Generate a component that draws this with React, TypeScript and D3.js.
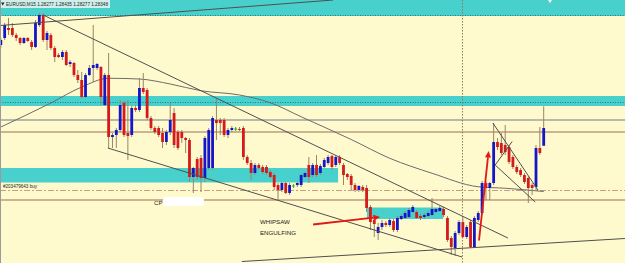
import React from "react";
import * as d3 from "d3";

const W = 625;
const H = 263;

const symbol = "EURUSD,M15";
const orderLabel = "#203479643 buy";

// [open, high, low, close]
const candles: [number, number, number, number][] = [
  [1.2868, 1.28708, 1.28668, 1.287],
  [1.28708, 1.28768, 1.287, 1.2876],
  [1.28748, 1.28788, 1.2872, 1.2874],
  [1.28748, 1.28768, 1.28712, 1.2872],
  [1.2872, 1.28728, 1.28696, 1.28708],
  [1.28708, 1.28712, 1.2868, 1.28688],
  [1.28688, 1.28712, 1.28684, 1.28708],
  [1.28708, 1.28712, 1.28692, 1.28696],
  [1.28692, 1.287, 1.2866, 1.28672],
  [1.28672, 1.2878, 1.28668, 1.28768],
  [1.2876, 1.28808, 1.28752, 1.288],
  [1.288, 1.28808, 1.28692, 1.287],
  [1.287, 1.28736, 1.2866, 1.28728],
  [1.2872, 1.28728, 1.2866, 1.28668],
  [1.28668, 1.28676, 1.28612, 1.28632],
  [1.2864, 1.28648, 1.28628, 1.28632],
  [1.28632, 1.2866, 1.2862, 1.28652],
  [1.28652, 1.2866, 1.28596, 1.286],
  [1.28604, 1.2862, 1.28592, 1.28612],
  [1.28608, 1.28612, 1.28552, 1.2856],
  [1.2856, 1.2858, 1.28528, 1.2854],
  [1.2854, 1.28572, 1.28468, 1.28472],
  [1.28472, 1.28568, 1.28468, 1.2856],
  [1.2856, 1.286, 1.28556, 1.28588],
  [1.28588, 1.2876, 1.28532, 1.286],
  [1.28588, 1.28608, 1.2858, 1.28604],
  [1.28592, 1.28596, 1.2844, 1.28472],
  [1.2844, 1.28568, 1.28436, 1.2856],
  [1.2856, 1.28648, 1.28268, 1.28312],
  [1.28312, 1.28328, 1.28268, 1.2832],
  [1.2832, 1.28348, 1.28268, 1.2834],
  [1.2834, 1.2846, 1.28332, 1.2844],
  [1.28448, 1.28456, 1.28312, 1.2832],
  [1.28328, 1.2846, 1.2822, 1.28316],
  [1.2832, 1.28436, 1.28312, 1.28428],
  [1.28428, 1.2844, 1.28412, 1.2842],
  [1.2842, 1.28548, 1.28412, 1.28508],
  [1.28508, 1.28568, 1.28484, 1.28492],
  [1.285, 1.28508, 1.2838, 1.28388],
  [1.28388, 1.28396, 1.2834, 1.28348],
  [1.28348, 1.28356, 1.28324, 1.28332],
  [1.28348, 1.28356, 1.28312, 1.2832],
  [1.28328, 1.28348, 1.28268, 1.28292],
  [1.28292, 1.2834, 1.2828, 1.28332],
  [1.28332, 1.28448, 1.2832, 1.2838],
  [1.28408, 1.28428, 1.28268, 1.2828],
  [1.28332, 1.2834, 1.2826, 1.28268],
  [1.28332, 1.2834, 1.28288, 1.28308],
  [1.28308, 1.28312, 1.28248, 1.283],
  [1.283, 1.28308, 1.28132, 1.28152],
  [1.28152, 1.28192, 1.28088, 1.28188],
  [1.28224, 1.28232, 1.2814, 1.28152],
  [1.28228, 1.2824, 1.28092, 1.28148],
  [1.28148, 1.28316, 1.28132, 1.28308],
  [1.28188, 1.28348, 1.2818, 1.2834],
  [1.28188, 1.28396, 1.2818, 1.28388],
  [1.2838, 1.28468, 1.283, 1.28368],
  [1.2838, 1.28388, 1.2832, 1.28368],
  [1.2838, 1.28388, 1.28312, 1.2832],
  [1.2832, 1.28348, 1.28308, 1.2834],
  [1.2834, 1.28356, 1.28332, 1.28348],
  [1.28344, 1.28352, 1.28336, 1.28344],
  [1.28344, 1.28352, 1.28336, 1.2834],
  [1.28348, 1.28356, 1.2822, 1.28232],
  [1.28232, 1.2824, 1.282, 1.28208],
  [1.28208, 1.2822, 1.2814, 1.28168],
  [1.28168, 1.28208, 1.2816, 1.282],
  [1.282, 1.28208, 1.2818, 1.28188],
  [1.28192, 1.282, 1.28164, 1.28172],
  [1.28192, 1.282, 1.2816, 1.28168],
  [1.28172, 1.2818, 1.28148, 1.28152],
  [1.2816, 1.28168, 1.281, 1.28112],
  [1.2812, 1.28128, 1.2806, 1.281],
  [1.281, 1.28132, 1.28092, 1.28128],
  [1.28128, 1.28132, 1.28084, 1.28088],
  [1.28088, 1.28128, 1.2808, 1.2812],
  [1.28116, 1.28124, 1.28108, 1.28116],
  [1.2812, 1.28132, 1.28112, 1.28128],
  [1.2812, 1.28164, 1.28112, 1.2816],
  [1.28152, 1.28172, 1.28148, 1.28168],
  [1.282, 1.28232, 1.28128, 1.28152],
  [1.2816, 1.28208, 1.28152, 1.282],
  [1.282, 1.2824, 1.28152, 1.2816],
  [1.28168, 1.28204, 1.2816, 1.28196],
  [1.28192, 1.28228, 1.28188, 1.2822],
  [1.28208, 1.2824, 1.282, 1.28232],
  [1.28236, 1.2824, 1.2818, 1.28192],
  [1.282, 1.2824, 1.28192, 1.28232],
  [1.28232, 1.2824, 1.282, 1.28208],
  [1.282, 1.28208, 1.2812, 1.2816],
  [1.28164, 1.28168, 1.2814, 1.28152],
  [1.28156, 1.28164, 1.281, 1.2812],
  [1.2812, 1.28128, 1.28092, 1.281],
  [1.281, 1.2812, 1.28092, 1.28116],
  [1.28112, 1.2812, 1.28092, 1.281],
  [1.28108, 1.2812, 1.28012, 1.28028],
  [1.28032, 1.2804, 1.2794, 1.27972],
  [1.2798, 1.28, 1.27912, 1.27964],
  [1.27928, 1.27968, 1.279, 1.27952],
  [1.27952, 1.2798, 1.2794, 1.27968],
  [1.27968, 1.27976, 1.27952, 1.2796],
  [1.2796, 1.27988, 1.27952, 1.2798],
  [1.27976, 1.27984, 1.27932, 1.2794],
  [1.2794, 1.27996, 1.27932, 1.27988],
  [1.27984, 1.28004, 1.2798, 1.27996],
  [1.27988, 1.28016, 1.27984, 1.28008],
  [1.27992, 1.28028, 1.27988, 1.2802],
  [1.28012, 1.2804, 1.28008, 1.28032],
  [1.28012, 1.2802, 1.27984, 1.27988],
  [1.27996, 1.28004, 1.2798, 1.27988],
  [1.27992, 1.28008, 1.27984, 1.28],
  [1.27996, 1.28016, 1.27992, 1.28008],
  [1.28, 1.28068, 1.27996, 1.28024],
  [1.28012, 1.28028, 1.28008, 1.28024],
  [1.28016, 1.28036, 1.28012, 1.28028],
  [1.28024, 1.28032, 1.27992, 1.28],
  [1.27988, 1.27996, 1.27892, 1.279],
  [1.27908, 1.27916, 1.2784, 1.27872],
  [1.27868, 1.27936, 1.27836, 1.27928],
  [1.27928, 1.2798, 1.2792, 1.27972],
  [1.27972, 1.27992, 1.27908, 1.27912],
  [1.27912, 1.2796, 1.27904, 1.27952],
  [1.27972, 1.2798, 1.27868, 1.27872],
  [1.27872, 1.27996, 1.27868, 1.27988],
  [1.2798, 1.28016, 1.27972, 1.28008],
  [1.28008, 1.28136, 1.28, 1.28128],
  [1.28128, 1.28136, 1.2806, 1.28108],
  [1.28108, 1.28132, 1.2806, 1.28128],
  [1.28128, 1.28368, 1.2812, 1.28292],
  [1.28292, 1.28308, 1.2826, 1.28272],
  [1.28288, 1.28328, 1.2824, 1.28248],
  [1.2828, 1.2836, 1.2824, 1.28252],
  [1.28272, 1.2828, 1.28204, 1.28212],
  [1.28232, 1.2824, 1.28184, 1.28192],
  [1.28192, 1.282, 1.28164, 1.28172],
  [1.2818, 1.28188, 1.28152, 1.2816],
  [1.2816, 1.28168, 1.28124, 1.28132],
  [1.28148, 1.28156, 1.28048, 1.28108],
  [1.2812, 1.28128, 1.2808, 1.28108],
  [1.28112, 1.2828, 1.281, 1.28268],
  [1.28268, 1.28352, 1.2824, 1.28248],
  [1.28277, 1.28435, 1.28277, 1.28348],
];

// moving average, sampled at bar indices
const maIndex = [0, 13, 21, 28, 36, 44, 52, 62, 70, 78, 91, 101, 112, 124, 131, 141];
const maValue = [
  1.28352, 1.28448, 1.28512, 1.28547, 1.28544, 1.28524, 1.28497, 1.2848, 1.28449,
  1.28393, 1.28302, 1.28227, 1.28167, 1.28113, 1.28107, 1.28094,
];

// zones: [fromIndex, toIndex, topPrice, bottomPrice] (null index = full width)
const zones: [number | null, number | null, number, number][] = [
  [null, null, 1.289, 1.28796],
  [null, null, 1.28476, 1.28436],
  [-1, 87.6, 1.28188, 1.2813],
  [95.1, 114.9, 1.2803, 1.27984],
];
const zoneDotLevels = [1.28798, 1.2845];

// horizontal levels
const levelGray = 1.2838;
const levelBrown = [1.28332, 1.2806];
const levelOrder = 1.28098;
const vLineIndex = 119.9;

// trend lines: [idx1, price1, idx2, price2]
const trendLines: [number, number, number, number][] = [
  [-0.21, 1.28758, 86.3, 1.2886],
  [11, 1.288, 131.7, 1.27908],
  [27.8, 1.28268, 119.8, 1.27832],
  [62.6, 1.27814, 162.1, 1.27906],
  [127.8, 1.28368, 139.5, 1.281],
  [128.4, 1.282, 132.8, 1.28294],
  [128.4, 1.282, 138.8, 1.28052],
];

const arrows: [number, number, number, number][] = [
  [81.1, 1.27962, 98.5, 1.27992],
  [124.2, 1.27898, 126.7, 1.28256],
];

const notes = [
  { text: "WHIPSAW", idx: 67.3, price: 1.27964 },
  { text: "ENGULFING", idx: 67.3, price: 1.2792 },
];
const cpLabel = { text: "CP", idx: 39.8, price: 1.2804 };

const BG = "#FFFACD";
const CYAN = "#48D1CC";
const BULL = "#1616C8";
const BEAR = "#D41A1A";
const DOJI = "#2FB02F";
const WICK = "#9a8468";
const TREND = "#4f4f4f";
const FONT = "'Liberation Sans', Arial, sans-serif";

export default function App() {
  const x = d3.scaleLinear().domain([0, candles.length - 1]).range([0.82, 543.7]);
  const y = d3.scaleLinear().domain([1.27808, 1.2886]).range([H, 0]);

  const maLine = d3
    .line<number>()
    .x((_, i) => x(maIndex[i]))
    .y((d) => y(d))
    .curve(d3.curveMonotoneX)(maValue);

  const last = candles[candles.length - 1];
  const title = `${symbol}  ${last.map((v) => v.toFixed(5)).join(" ")}`;

  const arrowEls = arrows.map(([i1, p1, i2, p2], k) => {
    const x1 = x(i1), y1 = y(p1), x2 = x(i2), y2 = y(p2);
    const dx = x2 - x1, dy = y2 - y1;
    const len = Math.hypot(dx, dy);
    const ux = dx / len, uy = dy / len;
    const hl = 6.5, hw = 3;
    const bx = x2 - ux * hl, by = y2 - uy * hl;
    const pts = `${x2},${y2} ${bx - uy * hw},${by + ux * hw} ${bx + uy * hw},${by - ux * hw}`;
    return (
      <g key={k}>
        <line x1={x1} y1={y1} x2={bx} y2={by} stroke="#E01818" strokeWidth={1.8} />
        <polygon points={pts} fill="#E01818" />
      </g>
    );
  });

  return (
    <div style={{ position: "fixed", left: 0, top: 0 }}>
      <svg width={W} height={H} style={{ display: "block" }}>
        <rect x={0} y={0} width={W} height={H} fill={BG} />
        {zones.map(([a, b, t, btm], k) => {
          const x0 = a === null ? 0 : Math.max(0, x(a));
          const x1 = b === null ? W : x(b);
          return (
            <rect key={k} x={x0} y={y(t)} width={x1 - x0} height={y(btm) - y(t)} fill={CYAN} />
          );
        })}
        {zoneDotLevels.map((p, k) => (
          <line key={k} x1={0} x2={W} y1={y(p)} y2={y(p)} stroke="#1f7f80" strokeWidth={1} strokeDasharray="1 1.5" />
        ))}
        <line x1={0} x2={W} y1={y(levelGray)} y2={y(levelGray)} stroke="#707888" strokeWidth={1} />
        {levelBrown.map((p, k) => (
          <line key={k} x1={0} x2={W} y1={y(p)} y2={y(p)} stroke="#9c6c50" strokeWidth={1} />
        ))}
        <line x1={0} x2={W} y1={y(levelOrder)} y2={y(levelOrder)} stroke="#c4a080" strokeWidth={1} strokeDasharray="6 2 2 2" />
        <line x1={x(vLineIndex)} x2={x(vLineIndex)} y1={0} y2={H} stroke="#8a7a62" strokeWidth={1} strokeDasharray="1.5 1.5" />
        <path d={maLine || ""} fill="none" stroke="#6c6c6c" strokeWidth={1} />
        {candles.map(([o, h, l, c], i) => {
          const cx = x(i);
          const yo = y(o), yc = y(c);
          const top = Math.min(yo, yc), bot = Math.max(yo, yc);
          const isDoji = o === c;
          const col = c > o ? BULL : BEAR;
          return (
            <g key={i}>
              <line x1={cx} x2={cx} y1={y(h)} y2={y(l)} stroke={isDoji ? DOJI : WICK} strokeWidth={1} />
              {isDoji ? (
                <line x1={cx - 1.6} x2={cx + 1.6} y1={yo} y2={yo} stroke={DOJI} strokeWidth={1} />
              ) : (
                <rect x={cx - 1.4} width={2.8} y={top} height={Math.max(bot - top, 1)} fill={col} />
              )}
            </g>
          );
        })}
        {trendLines.map(([i1, p1, i2, p2], k) => (
          <line key={k} x1={x(i1)} y1={y(p1)} x2={x(i2)} y2={y(p2)} stroke={TREND} strokeWidth={1} />
        ))}
        {arrowEls}
        {notes.map((n, k) => (
          <text key={k} x={x(n.idx)} y={y(n.price)} fontFamily={FONT} fontSize={6.2} fill="#222">
            {n.text}
          </text>
        ))}
        <text x={x(cpLabel.idx)} y={205} fontFamily={FONT} fontSize={6} fill="#222">
          {cpLabel.text}
        </text>
        <rect x={163} y={197} width={41} height={9} rx={3} fill="#ffffff" />
        <text x={3} y={y(levelOrder) - 2.5} fontFamily={FONT} fontSize={5} fill="#222" textLength={34} lengthAdjust="spacingAndGlyphs">
          {orderLabel}
        </text>
        <rect x={0} y={0} width={110} height={8} fill="#e9f3ef" opacity={0.85} />
        <path d="M1,2.5 L4.5,2.5 L2.75,5.5 Z" fill="#222" />
        <text x={6} y={6.3} fontFamily={FONT} fontSize={5} fill="#222" textLength={102} lengthAdjust="spacingAndGlyphs">
          {title}
        </text>
        <path d="M548,0 L552,0 L550,3 Z" fill="#ffffff" />
        <line x1={0.5} x2={0.5} y1={0} y2={H} stroke="#9a9a9a" strokeWidth={1} />
      </svg>
    </div>
  );
}
